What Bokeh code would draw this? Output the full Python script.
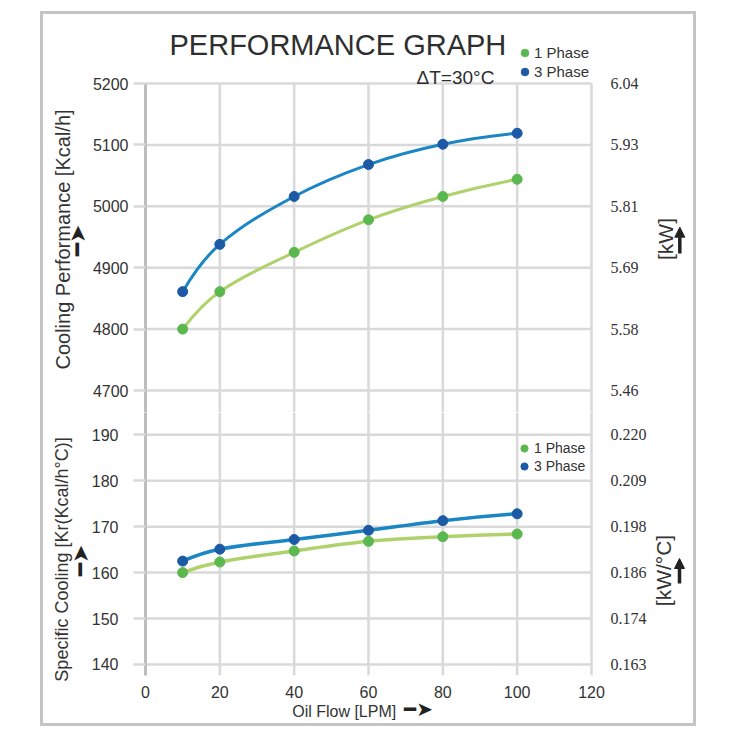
import math

from bokeh.embed import file_html
from bokeh.layouts import column
from bokeh.models import (Arrow, ColumnDataSource, FixedTicker, Grid, Label, LabelSet,
                          Legend, LegendItem, LinearAxis, NormalHead, Range1d)
from bokeh.plotting import figure
from bokeh.resources import INLINE

# ---- data -------------------------------------------------------------
oil_flow = [10, 20, 40, 60, 80, 100]                       # LPM
cooling_1ph = [4800, 4861, 4925, 4978, 5016, 5044]         # Kcal/h
cooling_3ph = [4861, 4938, 5016, 5068, 5101, 5119]         # Kcal/h
specific_1ph = [160.0, 162.3, 164.7, 166.8, 167.8, 168.4]  # Kcal/h°C
specific_3ph = [162.5, 165.1, 167.2, 169.2, 171.3, 172.8]  # Kcal/h°C

x_ticks = [0, 20, 40, 60, 80, 100, 120]
cooling_ticks = [4700, 4800, 4900, 5000, 5100, 5200]
cooling_kw_labels = ["5.46", "5.58", "5.69", "5.81", "5.93", "6.04"]
specific_ticks = [140, 150, 160, 170, 180, 190]
specific_kw_labels = ["0.163", "0.174", "0.186", "0.198", "0.209", "0.220"]

series_names = ["1 Phase", "3 Phase"]

# ---- styling ----------------------------------------------------------
FONT = "Liberation Sans"
ARROW_FONT = "DejaVu Sans"
TEXT_ARROW = "\u2501\u27a4"            # heavy bar + arrowhead
TEXT = "#333333"
DARK = "#222222"
GRID = "#d9d9d9"
AXIS = "#bdbdbd"
GREEN_DOT, GREEN_LINE = "#5bb84e", "#b0d26c"
BLUE_DOT, BLUE_LINE = "#1c5aa6", "#1a86c4"

# ---- layout geometry (pixels on the page) -----------------------------
FIG_X0, FIG_Y0 = 43, 14          # inside the grey outer frame
FIG_W = 650
FRAME_L, FRAME_R = 145, 693      # the frame runs on to the right edge (kW scale lives there)
SCALE_R = 591                    # page x of the 120 LPM grid line
TOP_FRAME = (14, 412)            # upper frame also holds the heading
BOT_FRAME = (412, 675)
BOT_FIG_END = 723

X_MAX = x_ticks[-1]
x_range = Range1d(0, X_MAX * (FRAME_R - FRAME_L) / (SCALE_R - FRAME_L))
top_range = Range1d(4664.17, 5312.38)
bot_range = Range1d(137.6, 194.85)
COOLING_TOP = 5200


def px_x(px):
    return x_range.start + (px - FRAME_L) * (x_range.end - x_range.start) / (FRAME_R - FRAME_L)


def px_y(py, rng, frame):
    return rng.end - (py - frame[0]) * (rng.end - rng.start) / (frame[1] - frame[0])


def ty(py):
    return px_y(py, top_range, TOP_FRAME)


def by(py):
    return px_y(py, bot_range, BOT_FRAME)


def bezier_parts(xs, ys):
    """Cubic Hermite segments (as Bezier control points) through the points."""
    n = len(xs)
    sec = [(ys[i + 1] - ys[i]) / (xs[i + 1] - xs[i]) for i in range(n - 1)]
    m = [0.0] * n
    for i in range(1, n - 1):
        m[i] = (ys[i + 1] - ys[i - 1]) / (xs[i + 1] - xs[i - 1])
    m[0] = 2 * sec[0] - m[1]
    m[-1] = 2 * sec[-1] - m[-2]
    d = dict(x0=[], y0=[], x1=[], y1=[], cx0=[], cy0=[], cx1=[], cy1=[])
    for i in range(n - 1):
        h = xs[i + 1] - xs[i]
        d["x0"].append(xs[i]); d["y0"].append(ys[i])
        d["x1"].append(xs[i + 1]); d["y1"].append(ys[i + 1])
        d["cx0"].append(xs[i] + h / 3); d["cy0"].append(ys[i] + m[i] * h / 3)
        d["cx1"].append(xs[i + 1] - h / 3); d["cy1"].append(ys[i + 1] - m[i + 1] * h / 3)
    return d


def text_axis(p, side, places, texts, size, standoff, orientation, font=FONT, style="normal"):
    """An axis without a line or ticks that carries captions at chosen places."""
    ticks = [round(v, 3) for v in places]
    ax = LinearAxis(ticker=FixedTicker(ticks=ticks),
                    major_label_overrides=dict(zip(ticks, texts)),
                    major_label_orientation=orientation, major_label_standoff=standoff,
                    major_tick_out=0, major_tick_in=0, axis_line_color=None,
                    major_tick_line_color=None, minor_tick_line_color=None,
                    major_label_text_font=font, major_label_text_font_size=size,
                    major_label_text_font_style=style,
                    major_label_text_color=DARK if font == ARROW_FONT else TEXT)
    p.add_layout(ax, side)


def make_panel(height, y_range, border_top, border_bottom, ticks, kw_labels,
               std_left, grid_top):
    p = figure(width=FIG_W, height=height, x_range=x_range, y_range=y_range,
               x_axis_location=None, y_axis_location=None, toolbar_location=None,
               output_backend="svg", min_border_left=FRAME_L - FIG_X0,
               min_border_right=FIG_X0 + FIG_W - FRAME_R,
               min_border_top=border_top, min_border_bottom=border_bottom,
               background_fill_color="white", border_fill_color="white",
               outline_line_color=None)
    p.center = [c for c in p.center if not isinstance(c, Grid)]

    # grid lines, confined to the scale area
    nx, ny = len(x_ticks), len(ticks)
    p.segment(x0=x_ticks, y0=[y_range.start] * nx, x1=x_ticks, y1=[grid_top] * nx,
              line_color=GRID, line_width=2.5, level="underlay")
    p.segment(x0=[0] * ny, y0=ticks, x1=[X_MAX] * ny, y1=ticks,
              line_color=GRID, line_width=2.5, level="underlay")

    left = LinearAxis(ticker=FixedTicker(ticks=ticks), bounds=(y_range.start, grid_top),
                      axis_line_color=AXIS, axis_line_width=3,
                      major_tick_out=12, major_tick_in=0,
                      major_tick_line_color=GRID, major_tick_line_width=2.5,
                      minor_tick_line_color=None, major_label_standoff=std_left,
                      major_label_text_font=FONT, major_label_text_font_size="16px",
                      major_label_text_color=TEXT)
    p.add_layout(left, "left")

    # kW equivalents, set beside the 120 LPM line
    kw = ColumnDataSource(dict(x=[px_x(610)] * ny, y=ticks, text=kw_labels))
    p.add_layout(LabelSet(x="x", y="y", text="text", source=kw, text_font=FONT,
                          text_font_size="16px", text_color=TEXT, text_align="left",
                          text_baseline="middle"))
    return p


def draw_series(p, ys_green, ys_blue, width):
    rends = []
    for ys, lc, dc in ((ys_green, GREEN_LINE, GREEN_DOT), (ys_blue, BLUE_LINE, BLUE_DOT)):
        p.bezier(source=bezier_parts(oil_flow, ys), x0="x0", y0="y0", x1="x1", y1="y1",
                 cx0="cx0", cy0="cy0", cx1="cx1", cy1="cy1",
                 line_color=lc, line_width=width)
        rends.append(p.scatter(oil_flow, ys, size=10, fill_color=dc, line_color=dc))
    return rends


def series_legend(p, rends, left_px, top_px, row, size, standoff, frame):
    p.add_layout(Legend(
        items=[LegendItem(label=n, renderers=[r]) for n, r in zip(series_names, rends)],
        location=(left_px - FRAME_L, frame[1] - (top_px + 2 * row)), orientation="vertical",
        glyph_width=row, glyph_height=row, label_height=row, spacing=0, padding=0, margin=0,
        label_standoff=standoff, background_fill_alpha=0, border_line_color=None,
        label_text_font=FONT, label_text_font_size=size, label_text_color=TEXT))


def caption(p, x, y, text, size, angle=0.0, align="center", baseline="middle", color=TEXT):
    p.add_layout(Label(x=x, y=y, text=text, text_font=FONT, text_font_size=size,
                       text_color=color, text_align=align, text_baseline=baseline,
                       angle=angle))


def up_arrow(p, x, y_tail, y_tip):
    p.add_layout(Arrow(x_start=x, y_start=y_tail, x_end=x, y_end=y_tip,
                       line_color=DARK, line_width=3.5,
                       end=NormalHead(size=10, fill_color=DARK, line_color=DARK)))


UPRIGHT = math.pi / 2

# ---- upper panel: cooling performance ---------------------------------
top = make_panel(TOP_FRAME[1] - FIG_Y0, top_range, 0, 0, cooling_ticks,
                 cooling_kw_labels, 5, COOLING_TOP)
top_rends = draw_series(top, cooling_1ph, cooling_3ph, 3)

caption(top, px_x(337.4), ty(44.3), "PERFORMANCE GRAPH", "29px",
        baseline="alphabetic", color="#2e2e2e")
caption(top, px_x(416), ty(77.3), "\u0394T=30\u00b0C", "19px", align="left",
        baseline="alphabetic", color="#2e2e2e")
series_legend(top, top_rends, 515, 43, 19, "15px", 0, TOP_FRAME)

text_axis(top, "left", [ty(240)], [TEXT_ARROW], "22px", -1, "parallel", ARROW_FONT, "bold")
text_axis(top, "left", [ty(239)], ["Cooling Performance [Kcal/h]"], "20px", -12, "parallel")
caption(top, px_x(665), ty(238.5), "[kW]", "21px", angle=UPRIGHT)
up_arrow(top, px_x(679.3), ty(253), ty(226.7))

# ---- lower panel: specific cooling ------------------------------------
bottom = make_panel(BOT_FIG_END - BOT_FRAME[0], bot_range, 0, BOT_FIG_END - BOT_FRAME[1],
                    specific_ticks, specific_kw_labels, 15, bot_range.end)
bot_rends = draw_series(bottom, specific_1ph, specific_3ph, 3.5)
series_legend(bottom, bot_rends, 515, 439, 18, "14px", 1, BOT_FRAME)

xaxis = LinearAxis(ticker=FixedTicker(ticks=x_ticks), axis_line_color=None,
                   major_tick_out=0, major_tick_in=0, major_tick_line_color=None,
                   minor_tick_line_color=None, major_label_standoff=10,
                   major_label_text_font=FONT, major_label_text_font_size="16px",
                   major_label_text_color=TEXT)
bottom.add_layout(xaxis, "below")
text_axis(bottom, "below", [px_x(343.7)], ["Oil Flow [LPM]"], "16px", 2, "horizontal")
# the arrow shares the caption's line, so its axis is pulled back up
text_axis(bottom, "below", [px_x(418)], [TEXT_ARROW], "20px", -26, "horizontal",
          ARROW_FONT, "bold")

text_axis(bottom, "left", [by(560)], [TEXT_ARROW], "22px", -5, "parallel", ARROW_FONT, "bold")
text_axis(bottom, "left", [by(559)], ["Specific Cooling [Kr(Kcal/h\u00b0C)]"], "18px", -7,
          "parallel")
caption(bottom, px_x(663), by(570), "[kW/\u00b0C]", "21px", angle=UPRIGHT)
up_arrow(bottom, px_x(679), by(583), by(558))

page = column(top, bottom, spacing=0, margin=(11, 0, 0, 40),
              styles={"border": "3px solid #c4c4c4"})

with open("out.html", "w") as f:
    f.write(file_html(page, INLINE))
